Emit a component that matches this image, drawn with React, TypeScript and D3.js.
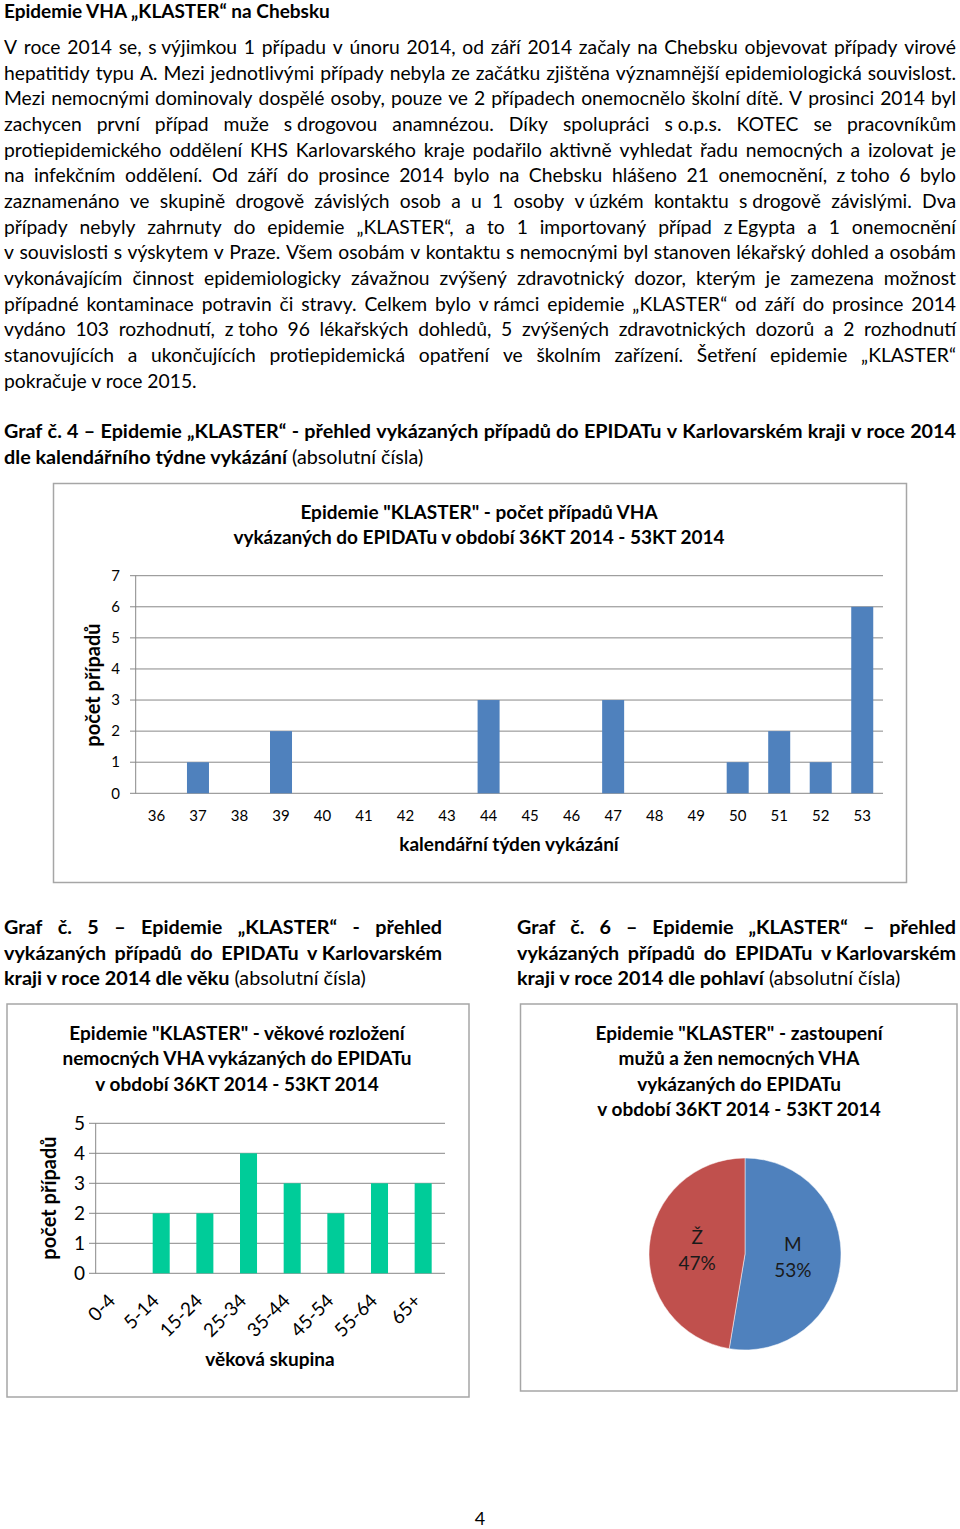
import React from 'react';
import * as d3 from 'd3';

// ---- data ----
const weeks = ['36', '37', '38', '39', '40', '41', '42', '43', '44', '45', '46', '47', '48', '49', '50', '51', '52', '53'];
const weekCases = [0, 1, 0, 2, 0, 0, 0, 0, 3, 0, 0, 3, 0, 0, 1, 2, 1, 6];
const weekTicks = [0, 1, 2, 3, 4, 5, 6, 7];

const ageGroups = ['0-4', '5-14', '15-24', '25-34', '35-44', '45-54', '55-64', '65+'];
const ageCases = [0, 2, 2, 4, 3, 2, 3, 3];
const ageTicks = [0, 1, 2, 3, 4, 5];

const sexLabels = ['M', 'Ž'];
const sexCases = [10, 9];
const sexColors = ['#4f81bd', '#c0504d'];

// ---- text ----
const NB = '\u00a0';
const heading = 'Epidemie VHA „KLASTER“ na Chebsku';
const paragraph = [
  `V roce 2014 se, s${NB}výjimkou 1 případu v únoru 2014, od září 2014 začaly na Chebsku objevovat případy virové`,
  'hepatitidy typu A. Mezi jednotlivými případy nebyla ze začátku zjištěna významnější epidemiologická souvislost.',
  'Mezi nemocnými dominovaly dospělé osoby, pouze ve 2 případech onemocnělo školní dítě. V prosinci 2014 byl',
  `zachycen první případ muže s${NB}drogovou anamnézou. Díky spolupráci s${NB}o.p.s. KOTEC se pracovníkům`,
  'protiepidemického oddělení KHS Karlovarského kraje podařilo aktivně vyhledat řadu nemocných a izolovat je',
  `na infekčním oddělení. Od září do prosince 2014 bylo na Chebsku hlášeno 21 onemocnění, z${NB}toho 6 bylo`,
  `zaznamenáno ve skupině drogově závislých osob a u 1 osoby v${NB}úzkém kontaktu s${NB}drogově závislými. Dva`,
  `případy nebyly zahrnuty do epidemie „KLASTER“, a to 1 importovaný případ z${NB}Egypta a 1 onemocnění`,
  'v souvislosti s výskytem v Praze. Všem osobám v kontaktu s nemocnými byl stanoven lékařský dohled a osobám',
  'vykonávajícím činnost epidemiologicky závažnou zvýšený zdravotnický dozor, kterým je zamezena možnost',
  `případné kontaminace potravin či stravy. Celkem bylo v${NB}rámci epidemie „KLASTER“ od září do prosince 2014`,
  `vydáno 103 rozhodnutí, z${NB}toho 96 lékařských dohledů, 5 zvýšených zdravotnických dozorů a 2 rozhodnutí`,
  'stanovujících a ukončujících protiepidemická opatření ve školním zařízení. Šetření epidemie „KLASTER“',
];
const paragraphEnd = 'pokračuje v roce 2015.';

const FAMILY = 'Lato, "Open Sans", sans-serif';
const BODY = 19.3;
const CAPTION = 18.5;

let ctx: CanvasRenderingContext2D | null = null;
function textWidth(s: string, weight: string, size: number) {
  if (!ctx) ctx = document.createElement('canvas').getContext('2d');
  ctx!.font = `${weight} ${size}px ${FAMILY}`;
  return ctx!.measureText(s).width;
}

// lays out words so the line fills x0..x1
function Justified({ text, x0, x1, y, size = BODY, weight = 'normal', condense = 1 }: any) {
  const words = text.split(' ');
  const widths = words.map((w: string) => textWidth(w, weight, size) * condense);
  const sum = d3.sum(widths);
  const n = words.length;
  const minGap = size * 0.2;
  let gap = n > 1 ? (x1 - x0 - sum) / (n - 1) : 0;
  let s = 1;
  if (gap < minGap) {
    s = (x1 - x0 - minGap * (n - 1)) / sum;
    gap = minGap;
  }
  let x = x0;
  return (
    <g>
      {words.map((w: string, i: number) => {
        const el = (
          <text key={i} x={x} y={y} fontSize={size} fontWeight={weight}
            textLength={widths[i] * s} lengthAdjust="spacingAndGlyphs">{w}</text>
        );
        x += widths[i] * s + gap;
        return el;
      })}
    </g>
  );
}

// bold part followed by normal part, condensed
function Mixed({ bold, normal, x0, y, size = CAPTION, condense = 1 }: any) {
  const wb = textWidth(bold, 'bold', size) * condense;
  const wn = textWidth(normal, 'normal', size) * condense;
  const sp = textWidth(' ', 'normal', size) * condense;
  return (
    <g>
      <text x={x0} y={y} fontSize={size} fontWeight="bold" textLength={wb} lengthAdjust="spacingAndGlyphs">{bold}</text>
      <text x={x0 + wb + sp} y={y} fontSize={size} textLength={wn} lengthAdjust="spacingAndGlyphs">{normal}</text>
    </g>
  );
}

function WeekChart() {
  const x = d3.scaleBand().domain(weeks).range([135.7, 883]).paddingInner(0.47).paddingOuter(0.235);
  const y = d3.scaleLinear().domain([0, 7]).range([793.3, 575.7]);
  return (
    <g>
      <rect x={53.5} y={483.5} width={853} height={399} fill="#fff" stroke="#a6a6a6" strokeWidth={1.5} />
      <text x={479} y={518.5} textAnchor="middle" fontSize={19} fontWeight="bold">Epidemie "KLASTER" - počet případů VHA</text>
      <text x={479} y={543.5} textAnchor="middle" fontSize={19} fontWeight="bold">vykázaných do EPIDATu v období 36KT 2014 - 53KT 2014</text>
      {weekTicks.map(t => (
        <g key={t}>
          <line x1={130} x2={883} y1={y(t)} y2={y(t)} stroke="#888" strokeWidth={1} />
          <text x={120} y={y(t)} dy="0.35em" textAnchor="end" fontSize={15}>{t}</text>
        </g>
      ))}
      <line x1={135.7} x2={135.7} y1={y(7)} y2={y(0)} stroke="#888" strokeWidth={1} />
      {weeks.map((w, i) => (
        <g key={w}>
          <rect x={x(w)} y={y(weekCases[i])} width={x.bandwidth()} height={y(0) - y(weekCases[i])} fill="#4f81bd" />
          <text x={x(w)! + x.bandwidth() / 2} y={820.5} textAnchor="middle" fontSize={15}>{w}</text>
        </g>
      ))}
      <text x={509} y={851} textAnchor="middle" fontSize={19} fontWeight="bold">kalendářní týden vykázání</text>
      <text transform="translate(100,685) rotate(-90)" textAnchor="middle" fontSize={20} fontWeight="bold">počet případů</text>
    </g>
  );
}

function AgeChart() {
  const x = d3.scaleBand().domain(ageGroups).range([95.7, 445]).paddingInner(0.61).paddingOuter(0.305);
  const y = d3.scaleLinear().domain([0, 5]).range([1273.3, 1123.3]);
  return (
    <g>
      <rect x={7} y={1004} width={462} height={393} fill="#fff" stroke="#a6a6a6" strokeWidth={1.5} />
      {['Epidemie "KLASTER" - věkové rozložení', 'nemocných VHA vykázaných do EPIDATu', 'v období 36KT 2014 - 53KT 2014'].map((t, i) => (
        <text key={i} x={237} y={1039.5 + i * 25.5} textAnchor="middle" fontSize={19} fontWeight="bold">{t}</text>
      ))}
      {ageTicks.map(t => (
        <g key={t}>
          <line x1={89} x2={445} y1={y(t)} y2={y(t)} stroke="#888" strokeWidth={1} />
          <text x={85} y={y(t)} dy="0.35em" textAnchor="end" fontSize={19}>{t}</text>
        </g>
      ))}
      <line x1={95.7} x2={95.7} y1={y(5)} y2={y(0)} stroke="#888" strokeWidth={1} />
      {ageGroups.map((g, i) => {
        const cx = x(g)! + x.bandwidth() / 2;
        return (
          <g key={g}>
            <rect x={x(g)} y={y(ageCases[i])} width={x.bandwidth()} height={y(0) - y(ageCases[i])} fill="#00cc99" />
            <text transform={`translate(${cx - 1},1302) rotate(-45)`} textAnchor="end" fontSize={19}>{g}</text>
          </g>
        );
      })}
      <text x={270} y={1366} textAnchor="middle" fontSize={19} fontWeight="bold">věková skupina</text>
      <text transform="translate(56,1198) rotate(-90)" textAnchor="middle" fontSize={20} fontWeight="bold">počet případů</text>
    </g>
  );
}

function SexChart() {
  const total = d3.sum(sexCases);
  const arcs = d3.pie<number>().sort(null)(sexCases);
  const r = 96;
  const arc = d3.arc<d3.PieArcDatum<number>>().innerRadius(0).outerRadius(r);
  const pct = d3.format('.0%');
  const cx = 745, cy = 1254;
  return (
    <g>
      <rect x={520.5} y={1004} width={436.5} height={387} fill="#fff" stroke="#a6a6a6" strokeWidth={1.5} />
      {['Epidemie "KLASTER" - zastoupení', 'mužů a žen nemocných VHA', 'vykázaných do EPIDATu', 'v období 36KT 2014 - 53KT 2014'].map((t, i) => (
        <text key={i} x={739} y={1039.5 + i * 25.6} textAnchor="middle" fontSize={19} fontWeight="bold">{t}</text>
      ))}
      <g transform={`translate(${cx},${cy})`}>
        {arcs.map((a, i) => (
          <path key={i} d={arc(a)!} fill={sexColors[i]} stroke="#fff" strokeWidth={0.5} />
        ))}
        {arcs.map((a, i) => {
          const [lx, ly] = arc.centroid(a);
          return (
            <g key={'l' + i} fontSize={19} textAnchor="middle" fill="#1a1a1a">
              <text x={lx} y={ly - 6.5}>{sexLabels[i]}</text>
              <text x={lx} y={ly + 19.5}>{pct(sexCases[i] / total)}</text>
            </g>
          );
        })}
      </g>
    </g>
  );
}

export default function App() {
  // captions are set narrower than the body text
  const condense = 283 / textWidth('dle kalendářního týdne vykázání', 'bold', CAPTION);
  const cap = { weight: 'bold', size: CAPTION, condense };
  return (
    <svg width={960} height={1529} style={{ position: 'absolute', left: 0, top: 0, background: '#fff' }}
      fontFamily={FAMILY} fill="#000">
      <rect width={960} height={1529} fill="#fff" />
      <text x={4} y={18} fontSize={19} fontWeight="bold">{heading}</text>
      {paragraph.map((line, i) => (
        <Justified key={i} text={line} x0={4} x1={956} y={54 + i * 25.68} />
      ))}
      <text x={4} y={54 + 13 * 25.68} fontSize={BODY}>{paragraphEnd}</text>

      <Justified text="Graf č. 4 – Epidemie „KLASTER“ - přehled vykázaných případů do EPIDATu v Karlovarském kraji v roce 2014"
        x0={4} x1={956} y={438} {...cap} />
      <Mixed bold="dle kalendářního týdne vykázání" normal="(absolutní čísla)" x0={4} y={464} condense={condense} />

      <WeekChart />

      <Justified text="Graf č. 5 – Epidemie „KLASTER“ - přehled" x0={4} x1={442} y={934} {...cap} />
      <Justified text={`vykázaných případů do EPIDATu v${NB}Karlovarském`} x0={4} x1={442} y={959.5} {...cap} />
      <Mixed bold="kraji v roce 2014 dle věku" normal="(absolutní čísla)" x0={4} y={985} condense={condense} />

      <Justified text="Graf č. 6 – Epidemie „KLASTER“ – přehled" x0={517} x1={956} y={934} {...cap} />
      <Justified text={`vykázaných případů do EPIDATu v${NB}Karlovarském`} x0={517} x1={956} y={959.5} {...cap} />
      <Mixed bold="kraji v roce 2014 dle pohlaví" normal="(absolutní čísla)" x0={517} y={985} condense={condense} />

      <AgeChart />
      <SexChart />

      <text x={480} y={1525} textAnchor="middle" fontSize={18}>4</text>
    </svg>
  );
}
